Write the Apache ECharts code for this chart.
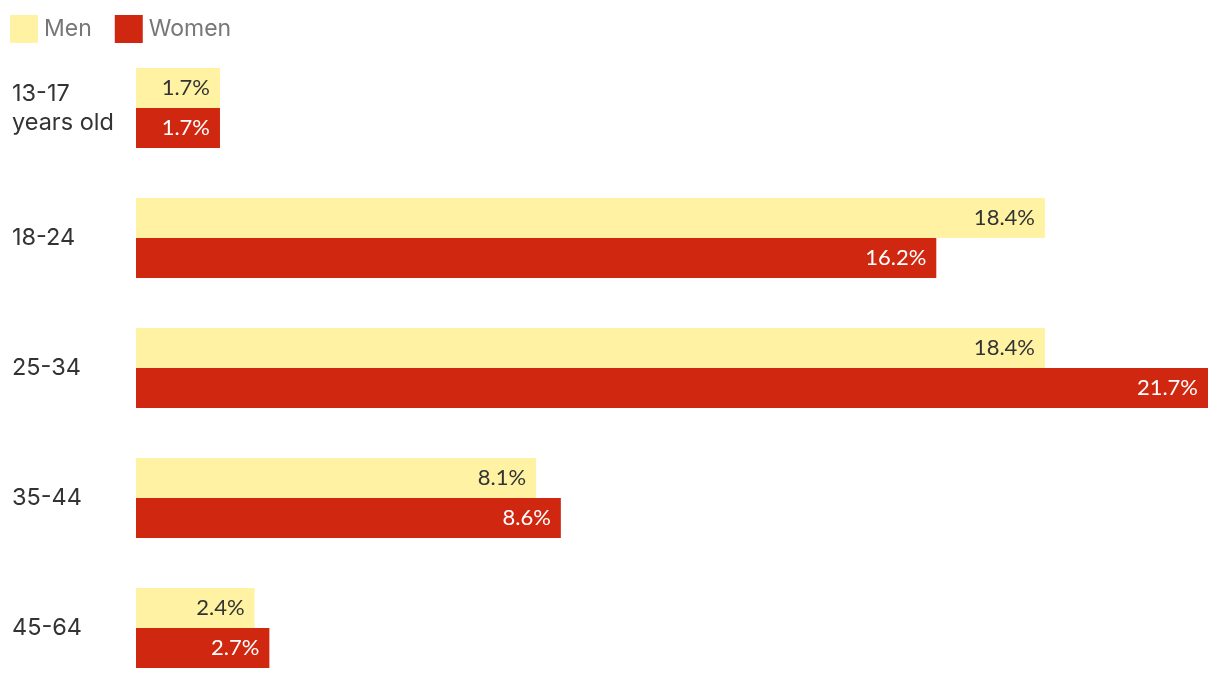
<!DOCTYPE html>
<html><head><meta charset="utf-8">
<script src="https://cdn.jsdelivr.net/npm/echarts@6/dist/echarts.min.js"></script>
<style>html,body{margin:0;padding:0;background:#fff}#c{width:1220px;height:680px}</style>
</head><body><div id="c"></div>
<script>
const categories = ["13-17\nyears old", "18-24", "25-34", "35-44", "45-64"];
const men = [1.7, 18.4, 18.4, 8.1, 2.4];
const women = [1.7, 16.2, 21.7, 8.6, 2.7];
const seriesNames = ["Men", "Women"];

const chart = echarts.init(document.getElementById('c'));
const labelCommon = {
  show: true, position: 'insideRight', distance: 10,
  fontFamily: 'Lato, "Noto Sans", sans-serif', fontSize: 22,
  formatter: p => p.value + '%'
};
chart.setOption({
  animation: false,
  legend: {
    left: 5, top: 10, itemWidth: 28, itemHeight: 28, itemGap: 23,
    icon: 'rect',
    textStyle: { fontFamily: 'Inter, sans-serif', fontSize: 23, color: '#777', padding: [0, 0, 0, 1] },
    data: seriesNames
  },
  grid: { left: 136, right: 12, top: 43, height: 650, outerBoundsMode: 'none', containLabel: false },
  xAxis: { type: 'value', min: 0, max: 21.7, show: false },
  yAxis: {
    type: 'category', inverse: true, data: categories,
    axisLine: { show: false }, axisTick: { show: false },
    axisLabel: { align: 'left', margin: 124, fontFamily: 'Inter, sans-serif', fontSize: 23.5, color: '#333', lineHeight: 29 }
  },
  series: [
    { name: seriesNames[0], type: 'bar', data: men, barWidth: 40, barGap: '0%',
      itemStyle: { color: '#FFF3A3' }, label: Object.assign({ color: '#333' }, labelCommon) },
    { name: seriesNames[1], type: 'bar', data: women, barWidth: 40,
      itemStyle: { color: '#D02810' }, label: Object.assign({ color: '#fff' }, labelCommon) }
  ]
});
</script></body></html>
